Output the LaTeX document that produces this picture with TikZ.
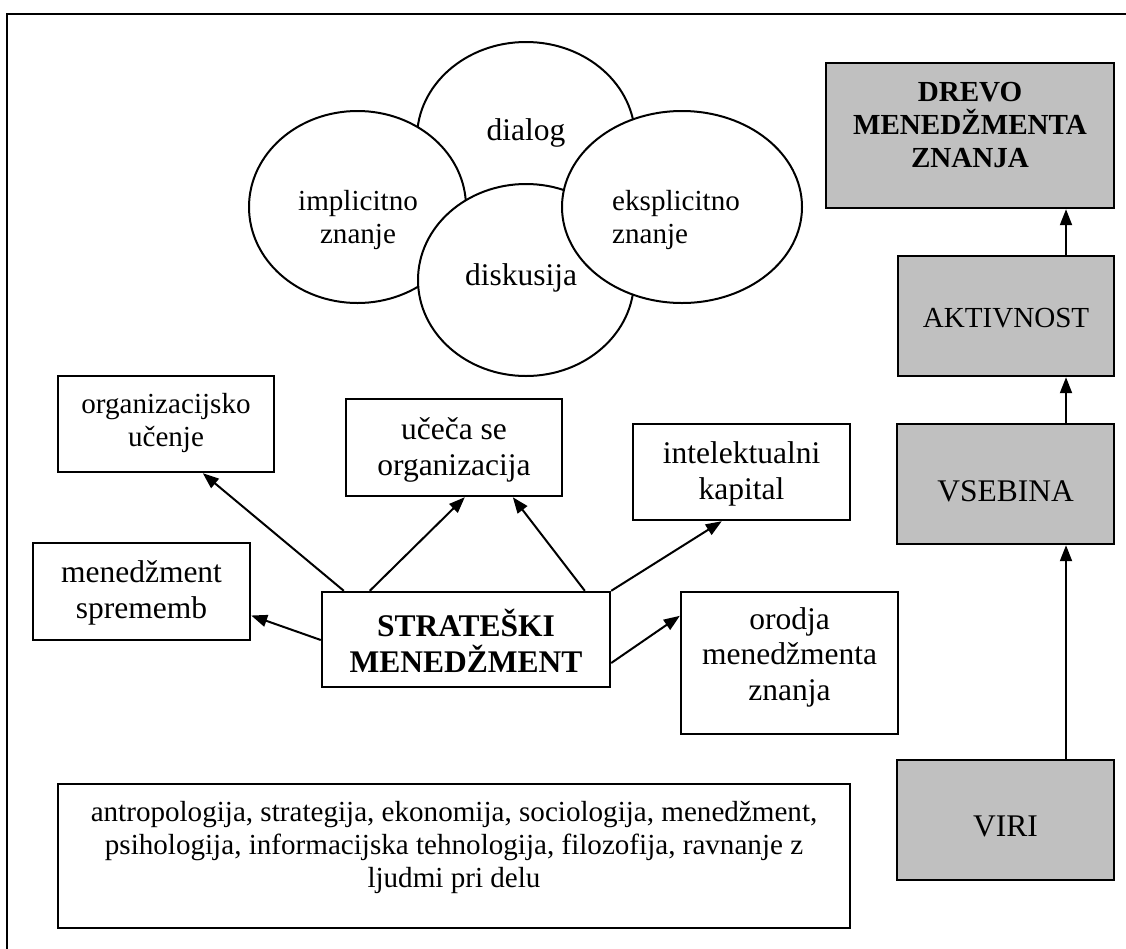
\documentclass[tikz,border=0pt]{standalone}
\usepackage{fontspec}
\setmainfont{Liberation Serif}
\usetikzlibrary{arrows.meta,shapes.geometric}
\definecolor{boxgray}{RGB}{192,192,192}
\begin{document}
\begin{tikzpicture}[x=1pt,y=-1pt,
  box/.style={draw, line width=2.4pt, fill=white, inner sep=0pt},
  gbox/.style={box, fill=boxgray},
  ell/.style={draw, ellipse, line width=2pt, fill=white, inner sep=0pt, minimum height=192pt},
  arr/.style={line width=2pt, -{Triangle[length=16pt,width=12pt]}},
  lbl/.style={align=center, inner sep=0pt, font=\fontsize{31.5}{35.5}\selectfont},
  lbls/.style={align=center, inner sep=0pt, font=\fontsize{29.1}{33}\selectfont}]
\useasboundingbox (0,0) rectangle (1126,948);
\clip (0,0) rectangle (1126,948);
\fill[white] (0,0) rectangle (1126,948);
% outer frame (cut by the picture's right and bottom edges)
\draw[line width=2.4pt] (7,14) rectangle (1140,962);

% ellipses, in stacking order
\node[ell, minimum width=218pt] (dia) at (526,138) {};
\node[ell, minimum width=217pt] (imp) at (357.5,207) {};
\node[ell, minimum width=216pt] (dis) at (526,280) {};
\node[ell, minimum width=240pt] (eks) at (682,207) {};
\node[lbl] (diat) at (526,133) {dialog};
\node[lbls] (impt) at (358,220) {implicitno\\znanje};
\node[lbl] (dist) at (521,278) {diskusija};
\node[lbls, align=left, anchor=west] (ekst) at (612,220) {eksplicitno\\znanje};

% white boxes
\node[box, minimum width=216pt, minimum height=96pt] (org) at (166,424) {};
\node[box, minimum width=216pt, minimum height=97pt] (uce) at (454,447.5) {};
\node[box, minimum width=217pt, minimum height=96pt] (int) at (741.5,472) {};
\node[box, minimum width=217pt, minimum height=97pt] (msp) at (141.5,591.5) {};
\node[box, minimum width=288pt, minimum height=95pt] (str) at (466,639.5) {};
\node[box, minimum width=217pt, minimum height=142pt] (oro) at (789.5,663) {};
\node[box, minimum width=792pt, minimum height=144pt] (bot) at (454,856) {};

\node[lbls] at (166,423) {organizacijsko\\učenje};
\node[lbl] at (454,450) {učeča se\\organizacija};
\node[lbl] at (741.5,474) {intelektualni\\kapital};
\node[lbl] at (141.5,593) {menedžment\\sprememb};
\node[lbl, font=\fontsize{31.5}{35.5}\selectfont\bfseries] at (466,641) {STRATEŠKI\\MENEDŽMENT};
\node[lbl] at (789.5,657) {orodja\\menedžmenta\\znanja};
\node[lbls] at (454,847) {antropologija, strategija, ekonomija, sociologija, menedžment,\\psihologija, informacijska tehnologija, filozofija, ravnanje z\\ljudmi pri delu};

% grey column
\node[gbox, minimum width=288pt, minimum height=145pt] (drevo) at (970,135.5) {};
\node[gbox, minimum width=216pt, minimum height=120pt] (akt) at (1006,316) {};
\node[gbox, minimum width=217pt, minimum height=120pt] (vse) at (1005.5,484) {};
\node[gbox, minimum width=217pt, minimum height=120pt] (viri) at (1005.5,820) {};
\node[lbls, font=\fontsize{29.1}{33}\selectfont\bfseries] at (970,125) {DREVO\\MENEDŽMENTA\\ZNANJA};
\node[lbls] at (1006,318) {AKTIVNOST};
\node[lbl] at (1005.5,491) {VSEBINA};
\node[lbl] at (1005.5,826) {VIRI};

% connectors
\draw[arr] ([xshift=23pt]str.north west) -- ([xshift=146pt]org.south west);
\draw[arr] ([yshift=-0.5pt]str.west) -- ([yshift=-24pt]msp.east);
\draw[arr] ([xshift=49pt]str.north west) -- ([xshift=120pt]uce.south west);
\draw[arr] ([xshift=264pt]str.north west) -- ([xshift=168pt]uce.south west);
\draw[arr] (str.north east) -- ([xshift=90pt]int.south west);
\draw[arr] ([yshift=-23.5pt]str.east) -- ([yshift=-25pt]oro.north west);
\draw[arr] ([xshift=60pt]akt.north) -- ([xshift=60pt]akt.north |- drevo.south);
\draw[arr] ([xshift=60.5pt]vse.north) -- ([xshift=60.5pt]vse.north |- akt.south);
\draw[arr] ([xshift=60.5pt]viri.north) -- ([xshift=60.5pt]viri.north |- vse.south);
\end{tikzpicture}
\end{document}
